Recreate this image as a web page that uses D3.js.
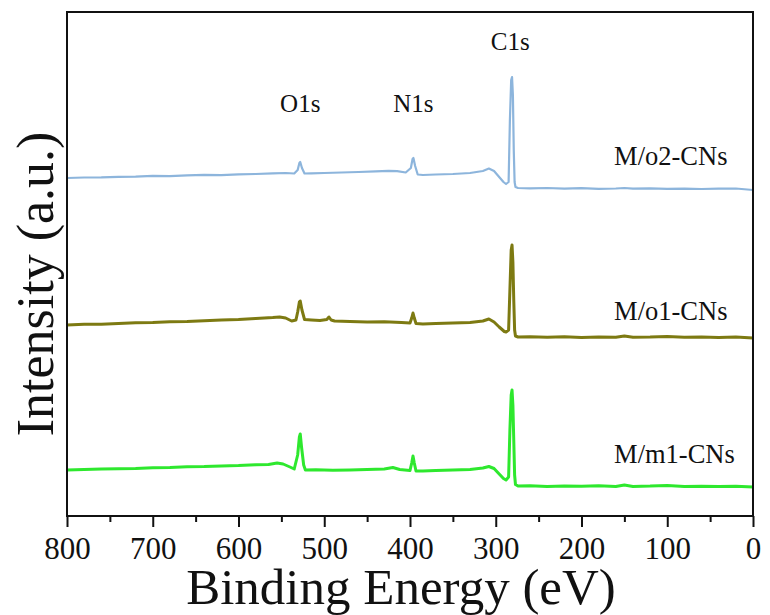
<!DOCTYPE html>
<html><head><meta charset="UTF-8">
<style type="text/css">
body { margin: 0; background: #fff; }
text { font-family: "Liberation Serif", "Times New Roman", serif; fill: #111; }
.line { fill: none; stroke-linejoin: round; }
.frame { fill: none; stroke: #111; stroke-width: 2; }
.x.axis path { display: none; }
.x.axis line { stroke: #111; stroke-width: 2; }
</style>
<script src="https://cdn.jsdelivr.net/npm/d3@7"></script>
</head><body>
<div id="chart"></div>
<script>
// binding energy (eV) / intensity (a.u.) pairs
var energyM2 = [800,780,760,740,720,700,680,660,640,620,600,580,560,545,535,531,529,528,526,523,515,500,480,460,440,425,415,405,399,397,396,394,391,385,370,350,330,315,308,302,296,291,288,285,283.5,282,281,280,279,278,277,274,260,240,220,200,180,160,150,140,120,100,80,60,40,20,0];
var intensM2 = [338,338.5,338.6,339.2,339.4,340.2,339.8,340.6,341.1,340.8,341.6,342,342.6,343,342.5,346,353,354,348,342.5,342.6,343,343.5,344,344.6,345.2,344.8,343.5,348,357,358,350,341.5,341,341.5,342,343,345,347.5,345,339,334,332,334,396,436,439,421,366,334,329,328,327.6,328,327.4,327.8,327.2,327.5,328,327.3,327.6,327.2,327.4,327,327.3,327.5,326];

var energyO1 = [800,780,760,740,720,700,680,660,640,620,600,580,560,552,545,538,533,531,529,528,526,523,515,505,497,494.5,492,488,470,450,430,410,400,398,396.5,395,393,385,370,350,330,315,308,302,296,290,288,285,283.5,282,281,280,279,278,277,274,260,240,220,200,180,160,150,140,120,100,80,60,40,20,0];
var intensO1 = [191,191.8,191.7,192.6,193.2,193.4,194.2,194.4,195.3,196,196.4,197.6,198.4,199,198,195,196,204,214,215,206,196.5,196,195.5,196.5,199,196,195,194.6,194,194.2,193.5,193,198,203,198,192.5,192,192.6,193,193.5,195,197,194,189,184.5,184,186,226,266,271,254,216,186,180,179,179.3,178.8,179.2,178.6,179,178.7,180,178.8,179,179.6,178.8,179.1,178.6,178.9,178];

var energyM1 = [800,780,760,740,720,700,680,660,640,620,600,580,565,555,548,540,535,531,529,528,526.5,524,522,510,490,470,450,430,420,412,400,398,396.5,395,393,385,370,350,330,315,308,302,296,291,288,285,283.5,282,281,280,279,278,277,274,260,240,220,200,180,160,150,140,120,100,80,60,40,20,0];
var intensM1 = [46,46.6,46.9,47.3,47.4,48.2,48.4,49.2,49.4,50.1,50.4,51.2,51.5,53,52,49,47,61,79,82,69,51,46,46.2,45.8,46.1,46.5,47,48.5,46.5,45.5,53,60,53,45,45,45.5,46,46.5,48,49.5,47.5,42,37.5,36,39,86,121,126,111,76,41,31.5,30,30.3,29.6,30.1,29.7,30.2,29.5,31,29.6,29.9,30.6,29.5,29.8,29.4,29.7,29];

var seriesNames = ["M/o2-CNs", "M/o1-CNs", "M/m1-CNs"];
var seriesColors = ["#8db5dc", "#7d7a12", "#2ee82e"];
var seriesWidths = [2.2, 3, 3];
var seriesEnergy = [energyM2, energyO1, energyM1];
var seriesIntens = [intensM2, intensO1, intensM1];

var peakNames = ["O1s", "N1s", "C1s"];
var peakEnergy = [528, 396, 283];
var xTicks = [800, 700, 600, 500, 400, 300, 200, 100, 0];
var xMinorTicks = [750, 650, 550, 450, 350, 250, 150, 50];

var margin = {top: 12, right: 17, bottom: 99, left: 67},
    W = 770, H = 615,
    width = W - margin.left - margin.right,
    height = H - margin.top - margin.bottom;

var x = d3.scaleLinear().domain([800, 0]).range([0, width]);
var y = d3.scaleLinear().domain([0, height]).range([height, 0]);

var svg = d3.select("#chart").append("svg")
    .attr("width", W).attr("height", H)
  .append("g")
    .attr("transform", "translate(" + margin.left + "," + margin.top + ")");

// minor ticks every 50 (no labels), major every 100, both pointing outwards
var minor = svg.append("g")
    .attr("class", "x axis")
    .attr("transform", "translate(0," + height + ")")
    .call(d3.axisBottom(x).tickValues(xMinorTicks).tickSize(6));
minor.selectAll("text").remove();

svg.append("g")
    .attr("class", "x axis")
    .attr("transform", "translate(0," + height + ")")
    .attr("font-family", "Liberation Serif, serif")
    .call(d3.axisBottom(x).tickValues(xTicks).tickSize(11).tickPadding(0).tickFormat(d3.format("d")))
    .selectAll("text")
    .attr("y", 43)
    .attr("dy", 0)
    .style("font-family", "Liberation Serif, serif")
    .style("font-size", "31px");

var line = d3.line()
    .x(function(d) { return x(d[0]); })
    .y(function(d) { return y(d[1]); });

seriesNames.forEach(function(name, i) {
  var pts = seriesEnergy[i].map(function(e, j) { return [e, seriesIntens[i][j]]; });
  svg.append("path")
      .datum(pts)
      .attr("class", "line")
      .attr("stroke", seriesColors[i])
      .attr("stroke-width", seriesWidths[i])
      .attr("d", line);
});

// series labels sit above the flat tail on the right
var labelOffset = [25, 18, 24];
seriesNames.forEach(function(name, i) {
  var n = seriesIntens[i].length;
  svg.append("text")
      .attr("x", x(162))
      .attr("y", y(seriesIntens[i][n - 1]) - labelOffset[i])
      .style("font-size", "26.5px")
      .text(name);
});

// peak annotations
var peakY = [100, 100, 38];
peakNames.forEach(function(p, i) {
  svg.append("text")
      .attr("x", x(peakEnergy[i]))
      .attr("y", peakY[i])
      .attr("text-anchor", "middle")
      .style("font-size", "25px")
      .text(p);
});

svg.append("rect")
    .attr("class", "frame")
    .attr("width", width)
    .attr("height", height);

svg.append("text")
    .attr("x", width / 2 - 9)
    .attr("y", height + 88)
    .attr("text-anchor", "middle")
    .style("font-size", "51px")
    .text("Binding Energy (eV)");

svg.append("text")
    .attr("transform", "translate(" + (53 - margin.left) + "," + (284 - margin.top) + ") rotate(-90)")
    .attr("text-anchor", "middle")
    .style("font-size", "52px")
    .text("Intensity (a.u.)");
</script>
</body></html>
